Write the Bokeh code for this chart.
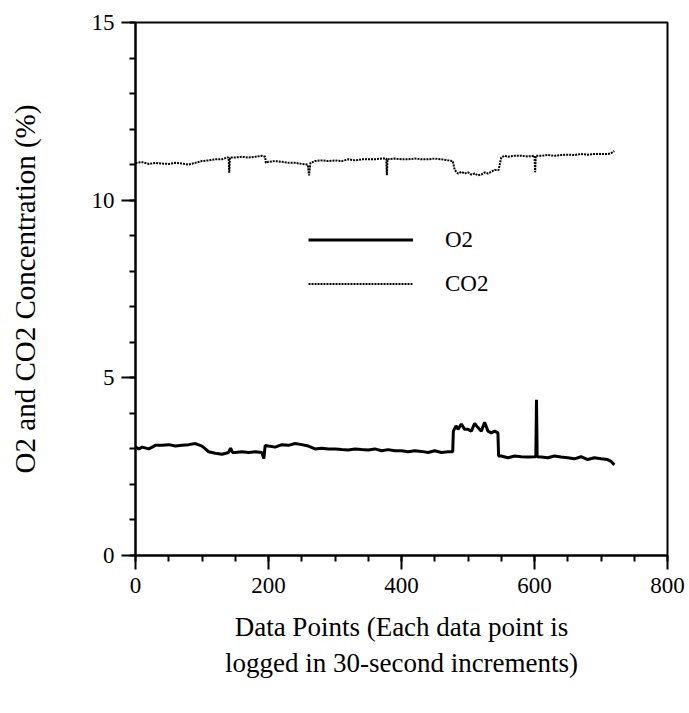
from bokeh.plotting import figure
from bokeh.models import Range1d, Legend, LegendItem, FixedTicker
from bokeh.embed import file_html
from bokeh.resources import INLINE

# O2 concentration (%) vs data point index
o2_x = [0, 5, 10, 20, 30, 40, 50, 60, 70, 80, 90, 100, 105, 110, 120, 130, 140, 143, 146,
        150, 160, 170, 180, 190, 193, 195, 200, 210, 220, 230, 240, 250, 260, 270, 280,
        290, 300, 310, 320, 330, 340, 350, 360, 370, 380, 390, 400, 410, 420, 430, 440,
        450, 460, 470, 477, 478, 482, 485, 490, 495, 500, 505, 510, 515, 520, 525, 530,
        535, 540, 545, 546, 550, 560, 570, 580, 590, 600, 602, 603, 604, 610, 620, 630,
        640, 650, 660, 670, 680, 690, 700, 710, 715, 720]
o2_y = [3.05, 3.00, 3.05, 3.00, 3.10, 3.10, 3.12, 3.08, 3.10, 3.12, 3.15, 3.08, 3.00, 2.92,
        2.88, 2.85, 2.90, 3.02, 2.90, 2.90, 2.92, 2.90, 2.92, 2.90, 2.73, 3.10, 3.08, 3.05,
        3.12, 3.10, 3.15, 3.12, 3.08, 3.00, 3.02, 3.00, 3.00, 2.98, 2.97, 3.00, 2.98, 2.97,
        3.00, 2.95, 2.98, 2.95, 2.95, 2.92, 2.95, 2.93, 2.90, 2.95, 2.90, 2.92, 2.92, 3.50,
        3.65, 3.55, 3.70, 3.55, 3.55, 3.50, 3.72, 3.60, 3.50, 3.75, 3.50, 3.45, 3.50, 3.45,
        2.80, 2.80, 2.75, 2.80, 2.78, 2.77, 2.78, 2.78, 4.38, 2.78, 2.77, 2.75, 2.80, 2.77,
        2.75, 2.72, 2.78, 2.70, 2.75, 2.72, 2.70, 2.65, 2.55]

# CO2 concentration (%) vs data point index
co2_x = [0, 10, 20, 30, 40, 50, 60, 70, 80, 90, 100, 110, 120, 130, 138, 140, 141, 142,
         150, 160, 170, 180, 190, 195, 196, 200, 210, 220, 230, 240, 250, 259, 261, 263,
         270, 280, 290, 300, 310, 320, 330, 340, 350, 360, 370, 377, 378, 379, 390, 400,
         410, 420, 430, 440, 450, 460, 470, 477, 480, 485, 490, 495, 500, 505, 510, 515,
         520, 525, 530, 535, 540, 546, 550, 555, 560, 570, 580, 590, 600, 601, 602, 610,
         620, 630, 640, 650, 660, 670, 680, 690, 700, 710, 715, 720]
co2_y = [11.05, 11.07, 11.02, 11.05, 11.03, 11.02, 11.05, 11.03, 11.00, 11.05, 11.10,
         11.12, 11.15, 11.15, 11.20, 11.20, 10.77, 11.20, 11.20, 11.22, 11.20, 11.22, 11.25,
         11.22, 11.05, 11.08, 11.10, 11.08, 11.05, 11.05, 11.02, 11.00, 10.70, 11.05, 11.10,
         11.12, 11.10, 11.12, 11.10, 11.15, 11.12, 11.15, 11.15, 11.15, 11.17, 11.17, 10.70,
         11.15, 11.17, 11.15, 11.15, 11.17, 11.15, 11.15, 11.17, 11.15, 11.12, 11.10, 10.85,
         10.75, 10.80, 10.75, 10.78, 10.72, 10.75, 10.70, 10.72, 10.78, 10.75, 10.80, 10.85,
         10.85, 11.20, 11.25, 11.22, 11.25, 11.25, 11.23, 11.25, 10.79, 11.25, 11.25, 11.27,
         11.25, 11.27, 11.28, 11.27, 11.30, 11.28, 11.30, 11.30, 11.30, 11.32, 11.38]

x_ticks = [0, 200, 400, 600, 800]
y_ticks = [0, 5, 10, 15]
FONT = "Liberation Serif"

p = figure(width=689, height=713, output_backend="svg", toolbar_location=None,
           x_range=Range1d(0, 800), y_range=Range1d(0, 15),
           min_border_left=135, min_border_right=22, min_border_top=22,
           min_border_bottom=158)
p.background_fill_color = "white"
p.border_fill_color = "white"
p.grid.visible = False
p.outline_line_color = "black"
p.outline_line_width = 2

r_o2 = p.line(o2_x, o2_y, line_color="black", line_width=3)
r_co2 = p.line(co2_x, co2_y, line_color="black", line_width=2, line_dash="2 1")

legend = Legend(items=[LegendItem(label="O2", renderers=[r_o2]),
                       LegendItem(label="CO2", renderers=[r_co2])],
                location=(173, 258), orientation="vertical",
                glyph_width=105, glyph_height=27, spacing=17, label_standoff=32,
                padding=0, margin=0, border_line_color=None,
                background_fill_alpha=0,
                label_text_font=FONT, label_text_font_size="23px",
                label_text_color="black")
p.add_layout(legend)

for ax in (p.xaxis[0], p.yaxis[0]):
    ax.axis_line_width = 2
    ax.axis_line_color = "black"
    ax.major_tick_line_width = 2
    ax.minor_tick_line_width = 2
    ax.major_tick_in = 0
    ax.minor_tick_in = 0
    ax.major_tick_out = 14
    ax.minor_tick_out = 6
    ax.major_label_text_font = FONT
    ax.major_label_text_font_size = "23px"
    ax.major_label_text_color = "black"
    ax.axis_label_text_font = FONT
    ax.axis_label_text_font_style = "normal"
    ax.axis_label_text_color = "black"

p.xaxis[0].ticker = FixedTicker(ticks=x_ticks, minor_ticks=list(range(0, 801, 50)))
p.yaxis[0].ticker = FixedTicker(ticks=y_ticks, minor_ticks=list(range(0, 16, 1)))
p.xaxis[0].major_label_standoff = 8
p.yaxis[0].major_label_standoff = 7
p.xaxis[0].axis_label = "Data Points (Each data point is\nlogged in 30-second increments)"
p.xaxis[0].axis_label_text_font_size = "27px"
p.xaxis[0].axis_label_standoff = 16
p.yaxis[0].axis_label = "O2 and CO2 Concentration (%)"
p.yaxis[0].axis_label_text_font_size = "29px"
p.yaxis[0].axis_label_standoff = 48

open("out.html", "w").write(file_html(p, INLINE))
